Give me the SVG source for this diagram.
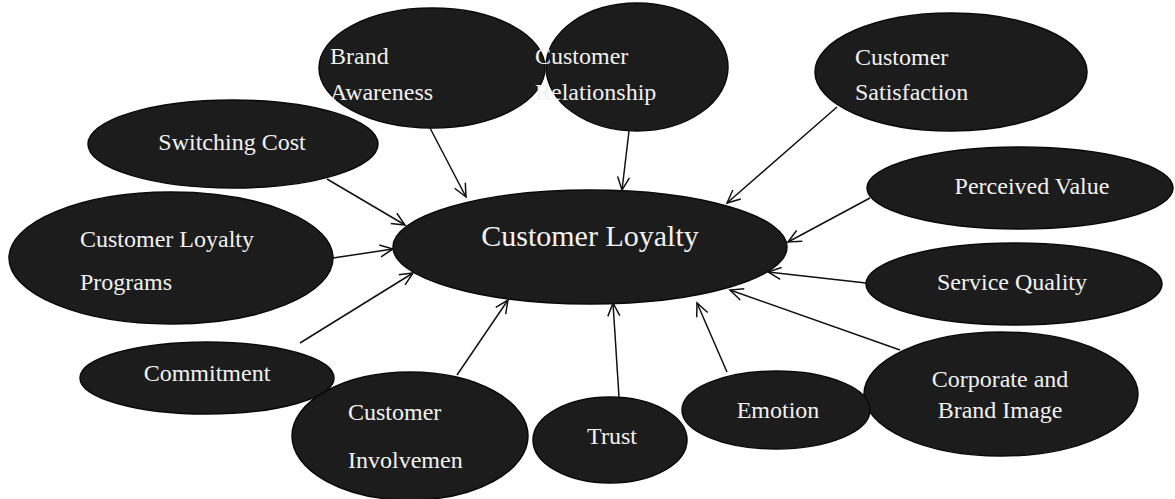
<svg xmlns="http://www.w3.org/2000/svg" width="1175" height="499" viewBox="0 0 1175 499">
<defs>
<style>
.n{fill:#1c1c1c;stroke:#0a0a0a;stroke-width:1.5}
.t{fill:#f2f2f2;font-family:"Liberation Serif","Times New Roman",serif;font-size:24px}
.c{text-anchor:middle}
.e line{stroke:#111;stroke-width:1.5;marker-end:url(#a)}
</style>
<marker id="a" markerUnits="userSpaceOnUse" markerWidth="18" markerHeight="18" refX="14" refY="7" orient="auto" viewBox="0 0 18 14">
<path d="M1,1 L14,7 L1,13" fill="none" stroke="#111" stroke-width="1.5"/>
</marker>
</defs>
<rect width="1175" height="499" fill="#fff"/>
<g id="edges" class="e">
<line x1="430" y1="128" x2="466" y2="197"/>
<line x1="629" y1="131" x2="622" y2="190"/>
<line x1="837" y1="107" x2="727" y2="203"/>
<line x1="870" y1="198" x2="788" y2="242"/>
<line x1="866" y1="283" x2="768" y2="272"/>
<line x1="900" y1="350" x2="730" y2="290"/>
<line x1="727" y1="372" x2="697" y2="303"/>
<line x1="619" y1="397" x2="613" y2="303"/>
<line x1="457" y1="375" x2="508" y2="300"/>
<line x1="300" y1="343" x2="413" y2="273"/>
<line x1="333" y1="258" x2="393" y2="249"/>
<line x1="327" y1="179" x2="405" y2="225"/>
</g>
<g id="n-loyalty"><ellipse class="n" cx="590" cy="247" rx="197" ry="57"/><text class="t c" x="590" y="246" style="font-size:30px">Customer Loyalty</text></g>
<g id="n-brand"><ellipse class="n" cx="432" cy="68" rx="113" ry="60"/><text class="t" x="330" y="64">Brand</text><text class="t" x="330" y="100">Awareness</text></g>
<g id="n-relationship"><ellipse class="n" cx="637" cy="67" rx="91" ry="64"/></g>
<g id="n-satisfaction"><ellipse class="n" cx="951" cy="72" rx="136" ry="59"/><text class="t" x="855" y="65">Customer</text><text class="t" x="855" y="100">Satisfaction</text></g>
<g id="n-perceived"><ellipse class="n" cx="1020" cy="188" rx="153" ry="41"/><text class="t c" x="1032" y="194">Perceived Value</text></g>
<g id="n-service"><ellipse class="n" cx="1014" cy="284" rx="148" ry="41"/><text class="t c" x="1012" y="290">Service Quality</text></g>
<g id="n-corporate"><ellipse class="n" cx="1001" cy="394" rx="137" ry="62"/><text class="t c" x="1000" y="387">Corporate and</text><text class="t c" x="1000" y="418">Brand Image</text></g>
<g id="n-emotion"><ellipse class="n" cx="776" cy="410" rx="94" ry="39"/><text class="t c" x="778" y="418">Emotion</text></g>
<g id="n-trust"><ellipse class="n" cx="610" cy="440" rx="77" ry="43"/><text class="t c" x="612" y="444">Trust</text></g>
<g id="n-involvement"><ellipse class="n" cx="410" cy="436" rx="118" ry="64"/><text class="t" x="348" y="420">Customer</text><text class="t" x="348" y="468">Involvemen</text></g>
<g id="n-commitment"><ellipse class="n" cx="207" cy="378" rx="127" ry="36"/><text class="t c" x="207" y="381">Commitment</text></g>
<g id="n-programs"><ellipse class="n" cx="171" cy="258" rx="162" ry="66"/><text class="t" x="80" y="247">Customer Loyalty</text><text class="t" x="80" y="290">Programs</text></g>
<g id="n-switching"><ellipse class="n" cx="233" cy="144" rx="145" ry="44"/><text class="t c" x="232" y="150">Switching Cost</text></g>
<g id="n-relationship-text"><text class="t" x="535" y="64">Customer</text><text class="t" x="535" y="100">Relationship</text></g>
</svg>
